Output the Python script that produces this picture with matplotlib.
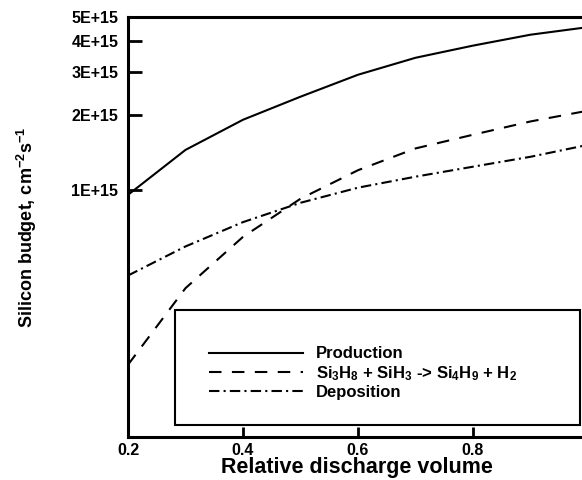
import matplotlib.pyplot as plt
from matplotlib.patches import Rectangle
from matplotlib.ticker import NullLocator

plt.rcParams['font.family'] = ['Liberation Sans', 'DejaVu Sans']
plt.rcParams['font.weight'] = 'bold'
plt.rcParams['mathtext.default'] = 'regular'

# silicon budget vs relative discharge volume (cm^-2 s^-1)
volume = [0.2, 0.3, 0.4, 0.5, 0.6, 0.7, 0.8, 0.9, 1.0]
production = [0.954e15, 1.45e15, 1.92e15, 2.38e15, 2.92e15, 3.42e15, 3.83e15, 4.24e15, 4.55e15]
si4h9_path = [1.96e14, 4.0e14, 6.45e14, 9.2e14, 1.2e15, 1.47e15, 1.67e15, 1.89e15, 2.09e15]
deposition = [4.5e14, 5.9e14, 7.4e14, 8.86e14, 1.02e15, 1.13e15, 1.24e15, 1.36e15, 1.52e15]

series_labels = ['Production',
                 'Si$_3$H$_8$ + SiH$_3$ -> Si$_4$H$_9$ + H$_2$',
                 'Deposition']

yticks = [1e15, 2e15, 3e15, 4e15, 5e15]
ytick_labels = ['1E+15', '2E+15', '3E+15', '4E+15', '5E+15']
xticks = [0.2, 0.4, 0.6, 0.8, 1.0]
xtick_labels = ['0.2', '0.4', '0.6', '0.8', '']

W, H = 582, 480
fig = plt.figure(figsize=(W / 100, H / 100), dpi=100)
ax = fig.add_axes([128 / W, 1 - 437 / H, 460 / W, 420 / H])

ax.plot(volume, production, color='k', lw=1.5, label=series_labels[0])
ax.plot(volume, si4h9_path, color='k', lw=1.5, ls=(0, (6, 5)), label=series_labels[1])
ax.plot(volume, deposition, color='k', lw=1.5, ls=(0, (5, 2, 1, 2)), label=series_labels[2])

ax.set_yscale('log')
ax.set_ylim(1e14, 5e15)
ax.set_xlim(0.2, 1.0)
ax.set_yticks(yticks, ytick_labels)
ax.yaxis.set_minor_locator(NullLocator())
ax.set_xticks(xticks, xtick_labels)

for s in ax.spines.values():
    s.set_linewidth(2.2)
ax.tick_params(axis='y', direction='in', length=10, width=2, pad=7, labelsize=11.5)
ax.tick_params(axis='x', direction='in', length=7, width=2, pad=4, labelsize=11.5)

# legend box
box = Rectangle((175 / W, 1 - 425 / H), 405 / W, 115 / H, transform=fig.transFigure,
                facecolor='white', edgecolor='k', lw=1.5, zorder=4, clip_on=False)
ax.add_patch(box)
leg = ax.legend(loc='upper left', bbox_to_anchor=(201 / W, 1 - 338 / H),
                bbox_transform=fig.transFigure, frameon=False, borderpad=0,
                handlelength=5.6, handletextpad=0.8, labelspacing=0.15,
                prop={'size': 12, 'weight': 'bold'})
leg.set_zorder(5)

fig.text(357 / W, 1 - 467 / H, 'Relative discharge volume', ha='center', va='center',
         fontsize=15.5, fontweight='bold')
fig.text(27 / W, 1 - 227 / H, 'Silicon budget, cm$^{-2}$s$^{-1}$', ha='center', va='center',
         rotation=90, fontsize=13, fontweight='bold')

fig.savefig('out.png', dpi=100)
